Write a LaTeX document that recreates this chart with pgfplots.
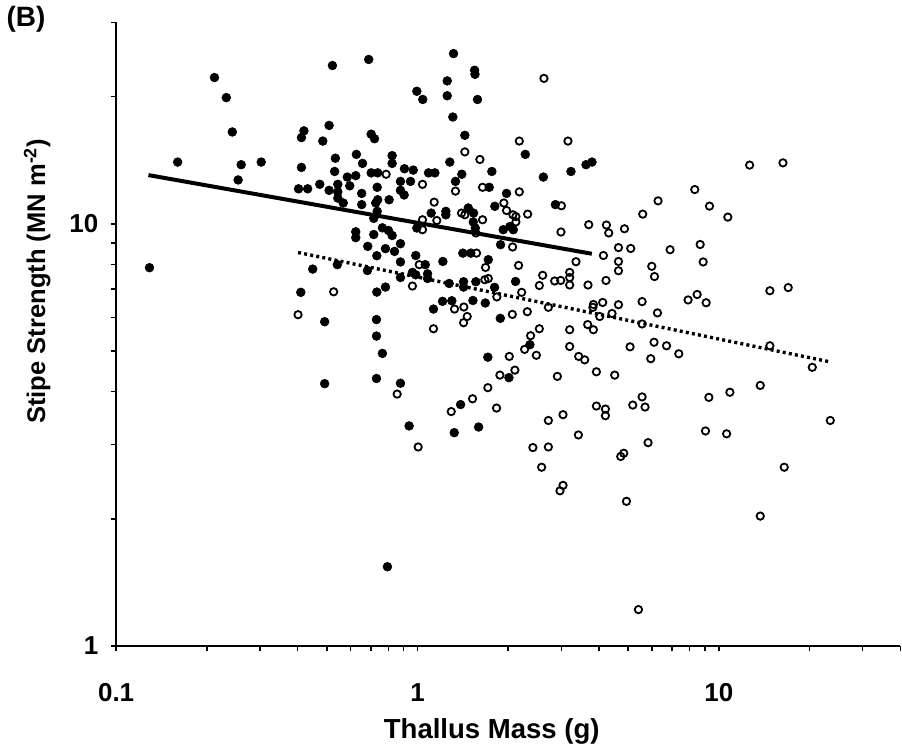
\documentclass[border=0pt]{standalone}
\usepackage{fontspec}
\setmainfont{Liberation Sans}
\usepackage{pgfplots}
\pgfplotsset{compat=1.18}
\begin{document}
\begin{tikzpicture}
\begin{axis}[
  scale only axis, width=393pt, height=312.5pt,
  xmode=log, ymode=log,
  xmin=0.1, xmax=40, ymin=1, ymax=30,
  axis x line*=bottom, axis y line*=left,
  axis line style={-, line width=1pt},
  xtick={0.1,1,10}, xticklabels={0.1,1,10},
  ytick={1,10}, yticklabels={1,10},
  minor xtick={0.2,0.3,0.4,0.5,0.6,0.7,0.8,0.9,2,3,4,5,6,7,8,9,20,30,40},
  minor ytick={2,3,4,5,6,7,8,9,20,30},
  tick align=outside,
  major tick length=2.8pt, minor tick length=2.8pt,
  every tick/.style={black, line width=0.75pt},
  xticklabel style={font=\bfseries\fontsize{13}{15}\selectfont, inner sep=0pt, anchor=base, yshift=-25pt},
  yticklabel style={font=\bfseries\fontsize{13}{15}\selectfont, inner sep=0pt, anchor=east, xshift=-6pt},
  xlabel={Thallus Mass (g)},
  ylabel={Stipe Strength (MN m\textsuperscript{-2})},
  x label style={font=\bfseries\fontsize{13.8}{16}\selectfont, at={(axis description cs:0.479,-0.149)}, anchor=base},
  y label style={font=\bfseries\fontsize{12.8}{14}\selectfont, at={(axis description cs:-0.0907,0.585)}, anchor=base, rotate=0},
  clip=false,
]
\path (rel axis cs:-0.14542,-0.16208) rectangle (rel axis cs:1.00216,1.03472);
\node[font=\bfseries\fontsize{14}{16}\selectfont, anchor=center] at (rel axis cs:-0.1149,1.0043) {(B)};

% regression lines
\addplot[black, line width=2pt] coordinates {(0.128,13.04) (3.79,8.49)};
\addplot[black, line width=1.7pt, dash pattern=on 1.5pt off 1.6pt] coordinates {(0.4015,8.55) (23.3,4.71)};

% open circles
\addplot[only marks, mark=o, mark size=1.85pt, mark options={draw=black, fill=white, line width=0.9pt}] coordinates {
(0.787,13.1) (0.527,6.90) (2.628,22.1) (2.177,15.7) (3.157,15.7) (1.436,14.8) (1.611,14.2) (1.337,11.95)
(1.039,12.4) (1.644,12.2) (1.136,11.25) (2.177,11.9) (1.935,11.2) (1.975,10.75) (2.073,10.5) (2.121,10.4)
(2.121,10.1) (2.320,10.54) (3.003,11.03) (1.400,10.6) (1.436,10.5) (1.039,10.22) (1.159,10.18) (1.644,10.22)
(1.039,9.68) (1.562,9.51) (2.993,9.56) (3.700,9.95) (2.068,8.81) (1.013,8.00) (1.570,8.52) (1.682,7.88)
(2.165,7.97) (1.673,7.37) (1.718,7.42) (1.834,6.71) (2.216,6.88) (2.602,7.55) (2.537,7.14) (2.852,7.32)
(2.987,7.34) (3.199,7.67) (3.199,7.46) (3.199,7.16) (3.357,8.13) (3.680,7.16) (0.962,7.12) (1.327,6.28)
(1.425,6.35) (1.462,6.03) (1.422,5.83) (2.064,6.10) (2.314,6.19) (2.718,6.34) (3.835,6.44) (3.820,6.34)
(4.024,6.03) (0.4015,6.09) (0.856,3.95) (1.130,5.64) (2.537,5.64) (2.373,5.43) (2.267,5.04) (2.480,4.88)
(3.199,5.61) (3.671,5.77) (3.835,5.61) (3.199,5.12) (3.427,4.85) (3.588,4.76) (2.017,4.85) (2.105,4.50)
(1.877,4.38) (2.912,4.35) (3.924,4.46) (1.712,4.09) (1.523,3.85) (1.294,3.59) (1.830,3.66) (2.718,3.42)
(3.040,3.53) (3.924,3.70) (3.419,3.16) (1.005,2.96) (2.415,2.95) (2.718,2.96) (12.65,13.77) (16.32,13.94)
(8.32,12.05) (6.285,11.33) (9.31,11.01) (10.71,10.37) (5.59,10.54) (4.236,9.93) (4.311,9.51) (4.861,9.73)
(4.140,8.41) (4.644,8.78) (5.100,8.74) (6.89,8.68) (8.67,8.93) (8.87,8.12) (4.644,8.14) (4.644,7.74)
(5.99,7.93) (6.115,7.50) (4.222,7.34) (4.117,6.51) (4.644,6.43) (4.421,6.13) (5.563,6.54) (6.256,6.15)
(5.563,5.79) (7.907,6.60) (8.47,6.80) (9.075,6.50) (14.77,6.94) (16.99,7.06) (5.074,5.11) (6.095,5.24)
(6.705,5.14) (7.364,4.92) (5.944,4.79) (14.77,5.14) (20.42,4.57) (4.513,4.38) (13.72,4.14) (9.265,3.88)
(10.88,3.99) (5.563,3.89) (5.18,3.72) (5.69,3.68) (4.203,3.64) (4.203,3.51) (23.43,3.42) (9.03,3.23)
(10.61,3.18) (5.823,3.03) (2.582,2.65) (4.835,2.86) (4.725,2.81) (16.48,2.65) (3.040,2.40) (2.971,2.33)
(4.936,2.20) (5.41,1.219) (13.72,2.03)
};

% filled circles
\addplot[only marks, mark=*, mark size=2.2pt, mark options={draw=black, fill=black, line width=0.3pt}] coordinates {
(0.212,22.2) (0.232,19.9) (0.243,16.5) (0.160,14.0) (0.260,13.8) (0.303,14.0) (0.254,12.7) (0.129,7.87)
(0.412,13.6) (0.420,16.6) (0.412,16.0) (0.509,17.1) (0.485,15.7) (0.702,16.3) (0.720,15.9) (0.627,14.6)
(0.657,13.9) (0.534,14.3) (0.824,14.5) (0.824,13.9) (0.531,13.3) (0.585,12.9) (0.624,13.0) (0.702,13.2)
(0.738,13.2) (0.544,12.4) (0.596,12.3) (0.474,12.4) (0.403,12.1) (0.432,12.1) (0.509,12.0) (0.544,11.9)
(0.653,11.8) (0.735,12.2) (0.544,11.5) (0.567,11.2) (0.653,11.1) (0.738,11.4) (0.727,11.2) (0.805,11.4)
(0.878,12.6) (0.878,12.0) (0.735,10.7) (0.716,10.3) (0.624,9.57) (0.624,9.27) (0.716,9.43) (0.765,9.78)
(0.801,9.64) (0.824,9.38) (0.878,8.97) (0.684,8.84) (0.783,8.73) (0.839,8.60) (0.733,8.40) (0.878,8.12)
(0.449,7.81) (0.542,8.00) (0.682,7.75) (0.878,7.46) (0.410,6.88) (0.733,6.89) (0.783,7.08) (1.317,25.3)
(0.689,24.5) (0.522,23.7) (1.547,23.1) (1.552,22.6) (1.255,21.8) (0.995,20.6) (1.041,19.7) (1.255,20.1)
(1.582,19.7) (1.310,17.9) (1.436,16.2) (2.279,14.6) (1.280,14.0) (1.765,13.3) (3.624,13.8) (3.794,14.0)
(2.616,12.9) (3.231,13.3) (0.905,13.5) (0.968,13.4) (1.088,13.2) (1.142,13.2) (1.403,13.1) (1.337,12.6)
(0.948,12.6) (0.903,11.7) (1.730,12.2) (1.975,11.8) (1.806,11.0) (2.868,11.1) (1.110,10.6) (1.242,10.7)
(1.242,10.5) (1.474,10.9) (1.535,10.6) (1.531,10.1) (1.555,9.77) (0.995,9.77) (1.926,9.68) (2.026,9.85)
(2.079,9.68) (1.887,8.92) (0.987,8.41) (1.061,8.00) (1.214,8.14) (1.414,8.52) (1.503,8.52) (1.718,8.22)
(0.962,7.67) (0.987,7.57) (1.080,7.61) (1.080,7.42) (1.274,7.22) (1.422,7.29) (1.422,7.08) (1.562,7.29)
(1.802,7.07) (2.116,7.30) (1.130,6.28) (1.211,6.55) (1.300,6.57) (1.527,6.58) (1.679,6.49) (1.883,5.97)
(0.492,5.86) (0.731,5.93) (0.731,5.42) (0.765,4.93) (0.731,4.30) (0.492,4.18) (0.878,4.19) (2.361,5.17)
(1.712,4.83) (2.011,4.32) (1.390,3.73) (0.938,3.32) (1.324,3.20) (1.595,3.30) (0.795,1.54)
};
\end{axis}
\end{tikzpicture}
\end{document}
